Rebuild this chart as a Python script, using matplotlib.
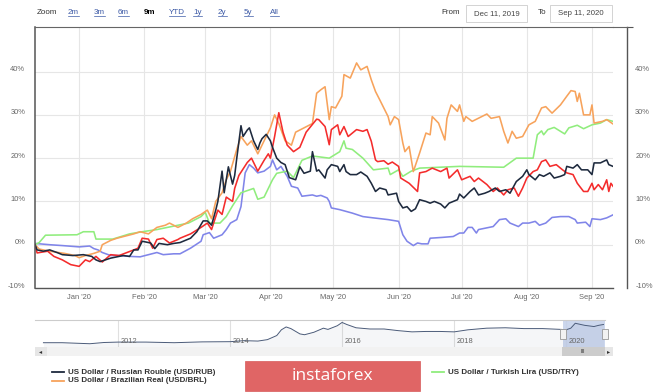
import matplotlib
matplotlib.use('Agg')
import matplotlib.pyplot as plt
import matplotlib.dates as mdates
import matplotlib.transforms as mtrans
from matplotlib.lines import Line2D
from matplotlib.patches import Rectangle
from matplotlib.ticker import FuncFormatter
import pandas as pd

plt.rcParams['font.family'] = ['Liberation Sans', 'DejaVu Sans']

# % change since Dec 11, 2019
rub_dates = """2019-12-11 2019-12-12 2019-12-15 2019-12-18 2019-12-22 2019-12-24 2019-12-29
2020-01-03 2020-01-07 2020-01-09 2020-01-11 2020-01-16 2020-01-22 2020-01-25 2020-01-27 2020-01-29
2020-01-31 2020-02-04 2020-02-06 2020-02-08 2020-02-12 2020-02-15 2020-02-18 2020-02-23 2020-02-26
2020-02-29 2020-03-02 2020-03-04 2020-03-06 2020-03-07 2020-03-09 2020-03-10 2020-03-12 2020-03-14
2020-03-15 2020-03-16 2020-03-18 2020-03-19 2020-03-21 2020-03-22 2020-03-24 2020-03-26 2020-03-27
2020-03-28 2020-03-30 2020-04-01 2020-04-02 2020-04-04 2020-04-06 2020-04-08 2020-04-10 2020-04-13
2020-04-15 2020-04-17 2020-04-20 2020-04-21 2020-04-23 2020-04-24 2020-04-27 2020-04-28 2020-04-30
2020-05-03 2020-05-04 2020-05-06 2020-05-07 2020-05-09 2020-05-12 2020-05-14 2020-05-17 2020-05-19
2020-05-21 2020-05-23 2020-05-26 2020-05-27 2020-05-31 2020-06-01 2020-06-03 2020-06-05 2020-06-07
2020-06-09 2020-06-11 2020-06-14 2020-06-16 2020-06-18 2020-06-21 2020-06-23 2020-06-25 2020-06-29
2020-06-30 2020-07-02 2020-07-05 2020-07-07 2020-07-09 2020-07-12 2020-07-14 2020-07-17 2020-07-19
2020-07-22 2020-07-24 2020-07-27 2020-07-30 2020-08-01 2020-08-02 2020-08-05 2020-08-07 2020-08-09
2020-08-12 2020-08-14 2020-08-17 2020-08-19 2020-08-20 2020-08-23 2020-08-25 2020-08-27 2020-08-30
2020-09-01 2020-09-02 2020-09-05 2020-09-08 2020-09-09 2020-09-11""".split()
rub_pct = [0.0, -1.2, -1.5, -1.2, -1.9, -2.3, -2.5,
           -2.3, -2.7, -3.5, -3.9, -3.1, -2.5, -2.7, -1.2, -1.2,
           0.8, 0.4, -0.9, 0.3, 0.0, 0.3, 0.5, 1.5, 3.0,
           5.5, 5.5, 4.5, 8.0, 10.0, 17.0, 12.0, 18.0, 14.0,
           16.0, 20.0, 27.5, 25.0, 26.5, 27.0, 24.0, 22.0, 23.5,
           24.5, 25.5, 24.0, 22.5, 20.0, 19.0, 18.5, 15.5, 15.0,
           18.0, 16.5, 17.0, 21.5, 17.0, 17.3, 15.4, 17.3, 18.5,
           18.1, 16.9, 18.5, 16.9, 16.2, 16.2, 16.8, 15.8, 14.2,
           12.3, 13.1, 12.7, 11.5, 11.9, 10.0, 8.5, 8.8, 7.7,
           8.3, 10.4, 10.0, 9.6, 10.0, 9.4, 8.5, 9.6, 10.4,
           11.7, 10.8, 12.3, 13.1, 11.5, 11.9, 12.3, 13.1, 12.3,
           12.7, 11.9, 14.6, 15.8, 17.3, 16.2, 15.0, 16.2, 15.8,
           16.6, 15.4, 15.8, 16.2, 18.1, 17.7, 18.5, 17.3, 17.3,
           16.2, 18.9, 18.9, 19.6, 18.5, 18.1]

brl_dates = """2019-12-11 2019-12-13 2019-12-18 2019-12-25 2019-12-30 2020-01-01 2020-01-04
2020-01-08 2020-01-11 2020-01-12 2020-01-16 2020-01-19 2020-01-27 2020-01-30 2020-02-03 2020-02-07
2020-02-11 2020-02-13 2020-02-17 2020-02-21 2020-02-24 2020-02-28 2020-03-02 2020-03-04 2020-03-06
2020-03-09 2020-03-11 2020-03-13 2020-03-16 2020-03-18 2020-03-21 2020-03-23 2020-03-26 2020-03-28
2020-03-30 2020-04-01 2020-04-03 2020-04-05 2020-04-08 2020-04-11 2020-04-13 2020-04-17 2020-04-21
2020-04-23 2020-04-25 2020-04-27 2020-04-29 2020-04-30 2020-05-02 2020-05-05 2020-05-06 2020-05-09
2020-05-12 2020-05-14 2020-05-17 2020-05-19 2020-05-21 2020-05-23 2020-05-27 2020-05-28 2020-05-30
2020-06-01 2020-06-03 2020-06-04 2020-06-06 2020-06-08 2020-06-11 2020-06-14 2020-06-16 2020-06-17
2020-06-20 2020-06-23 2020-06-24 2020-06-26 2020-06-29 2020-06-30 2020-07-02 2020-07-03 2020-07-06
2020-07-13 2020-07-15 2020-07-19 2020-07-21 2020-07-23 2020-07-25 2020-07-27 2020-07-30 2020-08-02
2020-08-05 2020-08-08 2020-08-10 2020-08-13 2020-08-17 2020-08-20 2020-08-22 2020-08-24 2020-08-25
2020-08-26 2020-08-28 2020-08-31 2020-09-01 2020-09-02 2020-09-06 2020-09-08 2020-09-11""".split()
brl_pct = [0.0, -1.0, -1.5, -2.0, -2.5, -3.0, -2.5,
           -2.0, -1.5, 0.0, 1.0, 1.5, 2.5, 3.0, 2.5, 4.0,
           4.5, 5.0, 4.0, 5.0, 6.0, 7.0, 8.0, 6.0, 10.0,
           12.0, 15.0, 17.0, 22.0, 25.0, 23.0, 24.0, 21.0, 23.0,
           25.0, 27.0, 30.0, 28.0, 24.0, 23.0, 26.0, 27.0, 28.0,
           35.0, 35.8, 36.5, 28.9, 31.9, 31.6, 34.3, 39.3, 38.5,
           42.0, 40.4, 41.2, 38.1, 35.4, 33.5, 29.6, 27.7, 29.6,
           28.9, 23.5, 21.5, 22.7, 16.9, 21.2, 25.8, 25.4, 29.6,
           28.1, 24.2, 29.2, 32.3, 30.8, 32.3, 28.5, 29.6, 28.5,
           30.2, 29.2, 29.6, 26.2, 23.5, 26.2, 24.6, 25.0, 27.7,
           28.5, 31.6, 31.9, 30.4, 32.3, 34.3, 35.6, 35.4, 33.1,
           35.0, 30.0, 30.0, 32.3, 28.1, 28.5, 28.9, 27.9]

try_dates = """2019-12-11 2019-12-13 2019-12-16 2019-12-31 2020-01-03 2020-01-08 2020-01-09
2020-01-17 2020-01-25 2020-01-31 2020-02-07 2020-02-17 2020-02-22 2020-02-28 2020-03-01 2020-03-03
2020-03-08 2020-03-11 2020-03-14 2020-03-18 2020-03-24 2020-03-26 2020-03-29 2020-04-02 2020-04-04
2020-04-09 2020-04-12 2020-04-16 2020-04-21 2020-04-29 2020-05-04 2020-05-06 2020-05-07 2020-05-10
2020-05-15 2020-05-20 2020-05-27 2020-05-28 2020-06-01 2020-06-03 2020-06-07 2020-06-11 2020-06-30
2020-07-21 2020-07-27 2020-08-04 2020-08-06 2020-08-08 2020-08-09 2020-08-11 2020-08-14 2020-08-19
2020-08-21 2020-08-25 2020-08-28 2020-09-01 2020-09-05 2020-09-08 2020-09-11""".split()
try_pct = [0.0, 0.5, 2.2, 2.3, 3.0, 3.0, 1.3,
           1.3, 2.5, 3.0, 3.5, 4.5, 5.0, 6.5, 7.5, 5.0,
           5.0, 6.5, 9.0, 12.0, 13.0, 10.5, 11.0, 15.0, 16.5,
           17.0, 15.5, 19.5, 20.5, 20.0, 21.5, 24.0, 22.3, 22.0,
           20.0, 17.3, 17.7, 16.2, 17.3, 15.8, 17.0, 17.7, 18.1,
           17.9, 20.0, 20.0, 25.4, 26.3, 25.4, 26.6, 27.1, 25.6,
           27.0, 27.6, 26.8, 27.7, 28.1, 28.9, 28.5]

zar_dates = """2019-12-11 2019-12-12 2019-12-17 2019-12-20 2019-12-24 2019-12-28 2020-01-01
2020-01-04 2020-01-06 2020-01-09 2020-01-12 2020-01-16 2020-01-20 2020-01-27 2020-01-29 2020-01-31
2020-02-03 2020-02-05 2020-02-07 2020-02-10 2020-02-13 2020-02-17 2020-02-18 2020-02-23 2020-02-28
2020-03-02 2020-03-04 2020-03-07 2020-03-09 2020-03-11 2020-03-14 2020-03-15 2020-03-17 2020-03-21
2020-03-23 2020-03-26 2020-03-29 2020-03-31 2020-04-01 2020-04-03 2020-04-05 2020-04-07 2020-04-09
2020-04-12 2020-04-15 2020-04-18 2020-04-23 2020-04-24 2020-04-27 2020-04-29 2020-04-30 2020-05-03
2020-05-04 2020-05-06 2020-05-08 2020-05-12 2020-05-15 2020-05-17 2020-05-19 2020-05-21 2020-05-22
2020-05-25 2020-05-27 2020-05-29 2020-06-01 2020-06-02 2020-06-06 2020-06-10 2020-06-11 2020-06-14
2020-06-17 2020-06-21 2020-06-24 2020-06-25 2020-06-29 2020-07-01 2020-07-05 2020-07-07 2020-07-09
2020-07-13 2020-07-16 2020-07-18 2020-07-21 2020-07-23 2020-07-26 2020-07-28 2020-07-30 2020-08-01
2020-08-04 2020-08-06 2020-08-08 2020-08-10 2020-08-12 2020-08-15 2020-08-18 2020-08-20 2020-08-23
2020-08-25 2020-08-28 2020-08-30 2020-09-01 2020-09-02 2020-09-04 2020-09-06 2020-09-08 2020-09-09
2020-09-10 2020-09-11""".split()
zar_pct = [0.0, -1.9, -1.5, -2.7, -3.5, -4.6, -5.0,
           -3.5, -3.9, -2.7, -4.0, -2.3, -2.5, -1.2, -0.8, 1.5,
           1.3, -0.8, 1.2, 1.5, 0.4, 1.2, 1.5, 2.5, 4.0,
           5.0, 3.5, 8.0, 7.0, 11.0, 10.0, 13.0, 16.0, 19.0,
           20.0, 17.0, 19.5, 21.0, 20.0, 25.0, 30.5, 26.0, 23.0,
           21.5, 22.5, 26.0, 29.0, 28.9, 27.3, 23.1, 26.6, 27.7,
           25.4, 27.3, 25.0, 26.6, 26.2, 26.6, 23.9, 19.6, 19.2,
           19.4, 18.6, 19.1, 18.1, 15.4, 14.2, 12.3, 16.6, 16.9,
           17.7, 16.9, 17.7, 15.4, 17.3, 15.0, 15.8, 14.6, 15.4,
           13.9, 12.3, 13.1, 11.5, 12.7, 13.1, 11.2, 13.1, 15.4,
           16.9, 17.3, 19.2, 19.6, 18.1, 18.5, 17.3, 16.6, 16.2,
           14.2, 12.3, 12.3, 14.2, 12.7, 13.9, 12.7, 15.0, 12.3,
           14.2, 13.5]

idr_dates = """2019-12-11 2019-12-18 2019-12-24 2020-01-01 2020-01-06 2020-01-08 2020-01-10
2020-01-12 2020-01-16 2020-01-20 2020-01-25 2020-01-30 2020-02-03 2020-02-07 2020-02-10 2020-02-15
2020-02-18 2020-02-23 2020-02-28 2020-02-29 2020-03-03 2020-03-05 2020-03-09 2020-03-11 2020-03-13
2020-03-16 2020-03-18 2020-03-20 2020-03-22 2020-03-24 2020-03-26 2020-03-29 2020-04-01 2020-04-02
2020-04-04 2020-04-06 2020-04-09 2020-04-11 2020-04-14 2020-04-16 2020-04-21 2020-04-23 2020-04-25
2020-04-28 2020-04-29 2020-04-30 2020-05-04 2020-05-07 2020-05-10 2020-05-15 2020-05-20 2020-05-27
2020-06-01 2020-06-03 2020-06-05 2020-06-08 2020-06-10 2020-06-12 2020-06-15 2020-06-16 2020-06-22
2020-06-27 2020-06-30 2020-07-02 2020-07-04 2020-07-06 2020-07-08 2020-07-09 2020-07-13 2020-07-16
2020-07-19 2020-07-22 2020-07-24 2020-07-28 2020-07-30 2020-08-02 2020-08-05 2020-08-07 2020-08-10
2020-08-13 2020-08-17 2020-08-21 2020-08-24 2020-08-25 2020-08-29 2020-08-31 2020-09-01 2020-09-05
2020-09-08 2020-09-11""".split()
idr_pct = [0.3, 0.0, -0.2, -0.5, -0.3, -0.9, -1.2,
           -1.8, -2.5, -2.5, -2.7, -2.8, -2.3, -1.8, -2.3, -2.1,
           -2.1, -0.8, 0.8, 2.3, 2.8, 1.5, 2.3, 3.5, 5.0,
           5.8, 8.8, 16.6, 18.5, 17.7, 16.6, 17.0, 18.1, 19.6,
           17.3, 18.1, 15.8, 13.5, 13.1, 11.2, 11.5, 11.2, 11.4,
           10.8, 10.0, 8.5, 8.1, 7.7, 7.3, 6.5, 6.2, 5.8,
           5.4, 2.3, 0.8, -0.2, 0.4, 0.2, 0.2, 1.5, 1.7,
           1.9, 2.7, 2.7, 4.0, 4.0, 2.7, 3.5, 3.9, 4.2,
           5.8, 6.0, 5.0, 4.2, 5.0, 5.0, 5.4, 4.5, 5.0,
           6.3, 6.5, 6.5, 5.8, 5.0, 5.2, 4.2, 6.0, 5.8,
           6.2, 6.9]

# navigator: long history of USD/RUB
nav_dates = """2010-09 2011-01 2011-07 2011-10 2012-01 2012-07 2013-01 2013-07 2014-01 2014-04
2014-07 2014-09 2014-11 2014-12 2015-01 2015-02 2015-04 2015-05 2015-07 2015-09 2015-10 2015-12
2016-01 2016-02 2016-04 2016-07 2016-10 2017-01 2017-04 2017-07 2017-10 2018-01 2018-04 2018-08
2018-12 2019-04 2019-08 2019-12 2020-01 2020-02 2020-03 2020-05 2020-07 2020-08 2020-09""".split()
nav_rub = [30.5, 30.5, 28.0, 31.0, 32.0, 32.0, 30.5, 32.5, 33.0, 35.5,
           34.5, 38.0, 48.0, 62.0, 69.0, 65.0, 52.0, 50.0, 56.0, 66.0, 63.0, 72.0,
           80.0, 75.0, 67.0, 64.0, 64.0, 60.0, 57.0, 58.0, 58.0, 57.0, 62.0, 66.0,
           67.0, 65.0, 65.0, 63.0, 62.0, 66.0, 78.0, 73.0, 70.0, 73.0, 75.0]

legend_labels = ['US Dollar / Russian Rouble (USD/RUB)',
                 'US Dollar / Brazilian Real (USD/BRL)',
                 'US Dollar / Turkish Lira (USD/TRY)']
zoom_buttons = ['2m', '3m', '6m', '9m', 'YTD', '1y', '2y', '5y', 'All']
range_from, range_to = '2019-12-11', '2020-09-11'

C_RUB, C_BRL, C_TRY, C_ZAR, C_IDR = '#1e2a3e', '#f7a35c', '#90ed7d', '#f42c2c', '#8085e9'
AXIS = '#555555'
W, H = 665, 392


def fx(px):
    return px / W


def fy(py):
    return 1 - py / H


fig = plt.figure(figsize=(W / 100, H / 100), dpi=100)

# ---- main chart ----
ax = fig.add_axes([fx(35), fy(288), fx(613) - fx(35), fy(27) - fy(288)])
series = [(idr_dates, idr_pct, C_IDR), (try_dates, try_pct, C_TRY),
          (brl_dates, brl_pct, C_BRL), (zar_dates, zar_pct, C_ZAR),
          (rub_dates, rub_pct, C_RUB)]
for d, v, c in series:
    ax.plot(pd.to_datetime(d), v, color=c, lw=1.15, solid_joinstyle='round')

ax.set_xlim(pd.Timestamp(range_from), pd.Timestamp(range_to))
ax.set_ylim(-10, 50.3)
ax.set_yticks(range(-10, 50, 10))
pct_fmt = FuncFormatter(lambda v, p: f'{v:.0f}%')
ax.yaxis.set_major_formatter(pct_fmt)
ax.xaxis.set_major_locator(mdates.MonthLocator())
ax.xaxis.set_major_formatter(mdates.DateFormatter("%b '%y"))
ax.grid(color='#e6e6e6', lw=0.8)
ax.set_axisbelow(True)
ax.tick_params(axis='y', length=0, pad=7, labelsize=5.4, labelcolor='#666666')
ax.tick_params(axis='x', length=0, pad=4, labelsize=5.4, labelcolor='#666666')
ax.spines['left'].set_color(AXIS)
ax.spines['left'].set_linewidth(1.1)
ax.spines['bottom'].set_color(AXIS)
ax.spines['bottom'].set_linewidth(1.0)
ax.spines['top'].set_color('#666666')
ax.spines['top'].set_linewidth(0.8)
ax.spines['right'].set_visible(False)

up = mtrans.ScaledTranslation(0, 3 / 100, fig.dpi_scale_trans)
for t in ax.yaxis.get_major_ticks():
    t.label1.set_transform(t.label1.get_transform() + up)

ax2 = ax.twinx()
ax2.set_ylim(ax.get_ylim())
ax2.set_yticks(range(-10, 50, 10))
ax2.yaxis.set_major_formatter(pct_fmt)
ax2.set_yticks([-10, 50.3], minor=True)
ax2.tick_params(axis='y', which='major', length=0, pad=6, labelsize=5.4, labelcolor='#666666')
ax2.tick_params(axis='y', which='minor', length=4, width=0.8, color=AXIS)
ax2.spines['right'].set_position(('outward', 10))
ax2.spines['right'].set_color(AXIS)
ax2.spines['right'].set_linewidth(1.0)
for s in ['left', 'top', 'bottom']:
    ax2.spines[s].set_visible(False)
for t in ax2.yaxis.get_major_ticks():
    t.label2.set_transform(t.label2.get_transform() + up)

fig.add_artist(Line2D([fx(613), fx(627)], [fy(27), fy(27)], color='#666666', lw=0.8))

# ---- navigator ----
nav = fig.add_axes([fx(35), fy(347), fx(605) - fx(35), fy(320) - fy(347)])
nav_x = pd.to_datetime(nav_dates)
nav.plot(nav_x, nav_rub, color='#4b5b79', lw=0.7, zorder=3)
nav.fill_between(nav_x, nav_rub, 0, color='#4b5b79', alpha=0.05, lw=0, zorder=2)
nav.set_xlim(pd.Timestamp('2010-07-08'), pd.Timestamp(range_to))
nav.set_ylim(20, 86)
nav.axvspan(pd.Timestamp(range_from), pd.Timestamp(range_to), color='#c3d0ea', alpha=0.85, lw=0, zorder=1)
years = [2012, 2014, 2016, 2018, 2020]
nav.set_xticks([pd.Timestamp(f'{y}-01-01') for y in years])
nav.grid(axis='x', color='#e0e0e0', lw=0.8)
nav.set_axisbelow(True)
nav.tick_params(length=0, labelbottom=False, labelleft=False)
nav.set_yticks([])
for s in ['left', 'right', 'bottom']:
    nav.spines[s].set_visible(False)
nav.spines['top'].set_color('#cccccc')
bt = mtrans.blended_transform_factory(nav.transData, nav.transAxes)
for y in years:
    nav.text(pd.Timestamp(f'{y}-01-20'), 0.22, str(y), transform=bt, fontsize=5.4,
             color='#666666', ha='left', va='center', zorder=4)
hw = 38
for edge in [range_from, range_to]:
    x0 = mdates.date2num(pd.Timestamp(edge)) - hw / 2
    nav.add_patch(Rectangle((x0, 0.3), hw, 0.38, transform=bt, fc='#f2f2f2',
                            ec='#999999', lw=0.6, clip_on=False, zorder=5))

# ---- scrollbar ----
sb = fig.add_axes([fx(35), fy(356), fx(613) - fx(35), fy(347) - fy(356)])
sb.set_facecolor('#f2f2f2')
sb.set_xticks([])
sb.set_yticks([])
for s in sb.spines.values():
    s.set_visible(False)
sb_w = 613 - 35
sb.add_patch(Rectangle((0, 0), 12 / sb_w, 1, transform=sb.transAxes, fc='#e6e6e6', lw=0))
sb.add_patch(Rectangle((527 / sb_w, 0), 43 / sb_w, 1, transform=sb.transAxes, fc='#cccccc', lw=0))
sb.add_patch(Rectangle((570 / sb_w, 0), 8 / sb_w, 1, transform=sb.transAxes, fc='#e6e6e6', lw=0))
sb.text(6 / sb_w, 0.5, '\u25c2', transform=sb.transAxes, ha='center', va='center',
        fontsize=4.5, color='#333333', family='DejaVu Sans')
sb.text(574 / sb_w, 0.5, '\u25b8', transform=sb.transAxes, ha='center', va='center',
        fontsize=4.5, color='#333333', family='DejaVu Sans')
sb.text(548 / sb_w, 0.45, 'III', transform=sb.transAxes, ha='center', va='center',
        fontsize=4, color='#333333')

# ---- legend ----
legend_pos = [(52, 372, C_RUB), (52, 381, C_BRL), (432, 372, C_TRY)]
for (lx, ly, c), lab in zip(legend_pos, legend_labels):
    fig.add_artist(Line2D([fx(lx), fx(lx + 12)], [fy(ly), fy(ly)], color=c, lw=1.3))
    fig.text(fx(lx + 16), fy(ly), lab, fontsize=5.8, fontweight='bold',
             color='#333333', ha='left', va='center')

# watermark box
fig.add_artist(Rectangle((fx(245), fy(391)), fx(420) - fx(245), fy(361) - fy(391),
                         transform=fig.transFigure, fc='#e06565', ec='#d85a5a', lw=0.5))
fig.text(fx(332), fy(376), 'instaforex', fontsize=12.5, color='white',
         family=['Open Sans', 'DejaVu Sans'], ha='center', va='center')

# ---- range selector ----
fig.text(fx(37), fy(13), 'Zoom', fontsize=5.8, color='#333333', ha='left', va='center')
btn_x = [68, 94, 118, 144, 169, 193, 218, 244, 270]
btn_texts = []
for bx, lab in zip(btn_x, zoom_buttons):
    if lab == '9m':
        fig.text(fx(bx), fy(13), lab, fontsize=5.8, color='#000000', fontweight='bold',
                 ha='left', va='center')
    else:
        btn_texts.append(fig.text(fx(bx), fy(13), lab, fontsize=5.8, color='#3d5aa6',
                                  ha='left', va='center'))

fig.text(fx(441), fy(13), 'From', fontsize=5.8, color='#333333', ha='left', va='center')
fig.text(fx(538), fy(13), 'To', fontsize=5.8, color='#333333', ha='left', va='center')
for (x0, x1), d in zip([(466, 527), (550, 612)], [range_from, range_to]):
    fig.add_artist(Rectangle((fx(x0), fy(22)), fx(x1) - fx(x0), fy(5) - fy(22),
                             transform=fig.transFigure, fc='white', ec='#cccccc', lw=0.6))
    fig.text(fx((x0 + x1) / 2), fy(13.5), pd.Timestamp(d).strftime('%b %d, %Y').replace(' 0', ' '),
             fontsize=5.6, color='#444444', ha='center', va='center')

fig.canvas.draw()
inv = fig.transFigure.inverted()
for t in btn_texts:
    bb = t.get_window_extent()
    (a0, b0), (a1, _) = inv.transform([(bb.x0, bb.y0 + 0.5), (bb.x1, bb.y0)])
    fig.add_artist(Line2D([a0, a1], [b0, b0], color='#3d5aa6', lw=0.5))

fig.savefig('out.png', dpi=100)
